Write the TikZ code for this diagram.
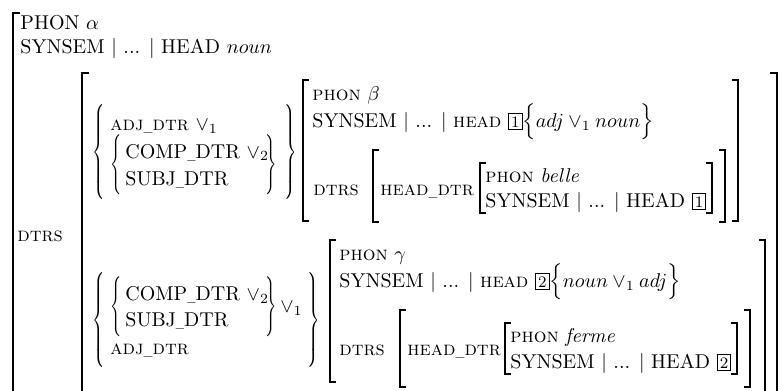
\documentclass[tikz,border=0pt]{standalone}
\usepackage{graphicx}
\newcommand\tagbox[1]{{\fboxsep=1pt\fboxrule=0.5pt\fbox{\footnotesize #1}}}
\newcommand\us{\scalebox{0.55}[1]{\_}}
\newcommand\LBr[1]{\scalebox{0.7}[1]{$\delimiterfactor=1000\delimitershortfall=0pt\left\{\vcenter{\hbox{\vrule height #1pt depth #1pt width 0pt}}\right.$}}
\newcommand\RBr[1]{\scalebox{0.7}[1]{$\delimiterfactor=1000\delimitershortfall=0pt\left.\vcenter{\hbox{\vrule height #1pt depth #1pt width 0pt}}\right\}$}}
\newcommand\SSbar{SYNSEM $|$ ... $|$}
\begin{document}
\begin{tikzpicture}[x=0.5pt,y=-0.5pt,
  lbl/.style={anchor=base west, inner sep=0pt, font=\fontsize{10}{12}\selectfont},
  brc/.style={anchor=center, inner sep=0pt, font=\fontsize{10}{12}\selectfont},
  brk/.style={line width=0.75pt}]
\fill[white] (0,0) rectangle (784,391);
\useasboundingbox (0,0) rectangle (784,391);
% ---- outer level
\draw[brk] (20,13) -- (13,13) -- (13,392);
\node[lbl] (phonA) at (20,29) {PHON $\alpha$};
\node[lbl] (synA) at (20,54) {\SSbar\ HEAD $noun$};
\node[lbl] (dtrsA) at (17,242) {\textsc{dtrs}};
% DTRS value brackets
\draw[brk] (89,73) -- (82,73) -- (82,392);
\draw[brk] (770,73) -- (777,73) -- (777,392);
% ---- first disjunction (top)
\node[brc] (L1) at (100,152) {\LBr{22.5}};
\node[lbl] (adj1) at (110,131) {\textsc{adj\us dtr} $\vee_1$};
\node[brc] (L2) at (117,165) {\LBr{12.5}};
\node[lbl] (comp1) at (125,158) {COMP\us DTR $\vee_2$};
\node[lbl] (subj1) at (125,185) {SUBJ\us DTR};
\node[brc] (R2) at (270,165) {\RBr{12.5}};
\node[brc] (R1) at (290,152) {\RBr{22.5}};
% beta matrix
\draw[brk] (309,80) -- (303,80) -- (303,221) -- (309,221);
\draw[brk] (732,80) -- (738,80) -- (738,221) -- (732,221);
\node[lbl] (phonB) at (312,100) {\textsc{phon} $\beta$};
\node[lbl] (synB) at (312,127) {\SSbar\ \textsc{head} \tagbox{1}$\Big\{adj \vee_1 noun\Big\}$};
\node[lbl] (dtrsB) at (313,195) {\textsc{dtrs}};
\draw[brk] (379,150) -- (373,150) -- (373,222) -- (379,222);
\draw[brk] (719,150) -- (725,150) -- (725,222) -- (719,222);
\node[lbl] (hdB) at (380,195) {\textsc{head\us dtr}};
\draw[brk] (486,163) -- (480,163) -- (480,213) -- (486,213);
\draw[brk] (706,163) -- (712,163) -- (712,213) -- (706,213);
\node[lbl] (phonBe) at (485,183) {\textsc{phon} \textit{belle}};
\node[lbl] (synBe) at (485,207) {\SSbar\ HEAD \tagbox{1}};
% ---- second disjunction (bottom)
\node[brc] (L3) at (100,320) {\LBr{22.5}};
\node[brc] (L4) at (117,307) {\LBr{12.5}};
\node[lbl] (comp2) at (125,300) {COMP\us DTR $\vee_2$};
\node[lbl] (subj2) at (125,327) {SUBJ\us DTR};
\node[lbl] (adj2) at (110,354) {\textsc{adj\us dtr}};
\node[brc] (R4) at (270,307) {\RBr{12.5}};
\node[lbl] (or2) at (280,313) {$\vee_1$};
\node[brc] (R3) at (313,320) {\RBr{22.5}};
% gamma matrix
\draw[brk] (336,240) -- (330,240) -- (330,382) -- (336,382);
\draw[brk] (759,240) -- (765,240) -- (765,392);
\node[lbl] (phonG) at (339,260) {\textsc{phon} $\gamma$};
\node[lbl] (synG) at (339,287) {\SSbar\ \textsc{head} \tagbox{2}$\Big\{noun \vee_1 adj\Big\}$};
\node[lbl] (dtrsG) at (339,355) {\textsc{dtrs}};
\draw[brk] (406,310) -- (400,310) -- (400,387) -- (406,387);
\draw[brk] (744,310) -- (750,310) -- (750,387) -- (744,387);
\node[lbl] (hdG) at (407,355) {\textsc{head\us dtr}};
\draw[brk] (511,323) -- (505,323) -- (505,374) -- (511,374);
\draw[brk] (731,323) -- (737,323) -- (737,374) -- (731,374);
\node[lbl] (phonF) at (510,343) {\textsc{phon} \textit{ferme}};
\node[lbl] (synF) at (510,368) {\SSbar\ HEAD \tagbox{2}};
\end{tikzpicture}
\end{document}
